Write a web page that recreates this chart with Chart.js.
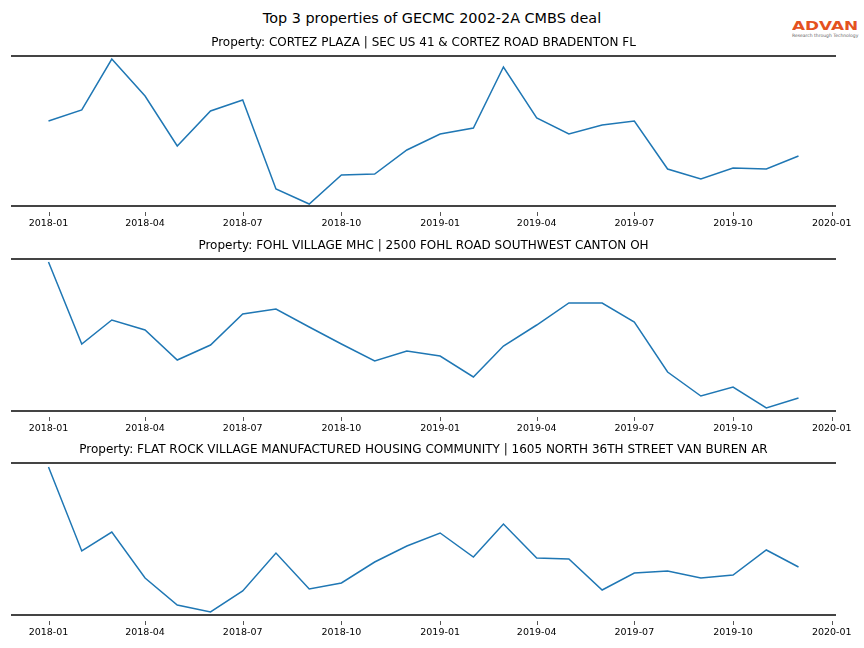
<!DOCTYPE html>
<html>
<head>
<meta charset="utf-8">
<script src="https://cdn.jsdelivr.net/npm/chart.js@4"></script>
<style>
  body { margin: 0; background: #fff; }
  #fig { position: relative; width: 864px; height: 648px; font-family: "DejaVu Sans", sans-serif; }
  #fig canvas { position: absolute; left: 0; }
  #mainTitle { position: absolute; top: 10px; left: 0; width: 864px; text-align: center; font-size: 14.4px; color: #000; }
  #logo { position: absolute; left: 792px; top: 19px; width: 68px; }
  #logo .name { font-family: "DejaVu Sans", sans-serif; font-weight: bold; font-size: 13px; color: #e4521f; line-height: 14px;
                transform: scaleX(1.3); transform-origin: left top; white-space: nowrap; }
  #logo .tag { font-size: 4.5px; color: #666; line-height: 6px; white-space: nowrap; margin-top: 0px; }
</style>
</head>
<body>
<div id="fig">
  <div id="mainTitle">Top 3 properties of GECMC 2002-2A CMBS deal</div>
  <div id="logo"><div class="name">ADVAN</div><div class="tag">Research through Technology</div></div>
  <canvas id="chart1" width="864" height="206" style="top:30px"></canvas>
  <canvas id="chart2" width="864" height="208" style="top:233px"></canvas>
  <canvas id="chart3" width="864" height="208" style="top:437px"></canvas>
</div>
<script>
const months = ['2018-01', '2018-02', '2018-03', '2018-04', '2018-05', '2018-06',
    '2018-07', '2018-08', '2018-09', '2018-10', '2018-11', '2018-12',
    '2019-01', '2019-02', '2019-03', '2019-04', '2019-05', '2019-06',
    '2019-07', '2019-08', '2019-09', '2019-10', '2019-11', '2019-12'];
const tickLabels = ['2018-01', '2018-04', '2018-07', '2018-10', '2019-01',
    '2019-04', '2019-07', '2019-10', '2020-01'];

const panelTitles = [
    'Property: CORTEZ PLAZA | SEC US 41 & CORTEZ ROAD BRADENTON FL',
    'Property: FOHL VILLAGE MHC | 2500 FOHL ROAD SOUTHWEST CANTON OH',
    'Property: FLAT ROCK VILLAGE MANUFACTURED HOUSING COMMUNITY | 1605 NORTH 36TH STREET VAN BUREN AR'
];

// relative visit levels (no y scale shown)
const cortezValues = [85, 96, 147, 110, 60, 95, 106, 17, 2, 31, 32, 56,
    72, 78, 139, 88, 72, 81, 85, 37, 27, 38, 37, 50];
const fohlValues = [149, 67, 91, 81, 51, 66, 97, 102, 84, 67, 50, 60,
    55, 34, 65, 86, 108, 108, 89, 39, 15, 24, 3, 13];
const flatRockValues = [148, 64, 83, 37, 10, 3, 24, 62, 26, 32, 53, 69,
    82, 58, 91, 57, 56, 25, 42, 44, 37, 40, 65, 48];
const yMax = [150, 152, 152];

const DAY = 86400000;
const origin = Date.UTC(2018, 0, 1);
function dayOffset(label) {
    const [y, m] = label.split('-').map(Number);
    return (Date.UTC(y, m - 1, 1) - origin) / DAY;
}

const spanDays = dayOffset(months[months.length - 1]) - dayOffset(months[0]);
const xMin = -spanDays * 0.05;
const xMax = spanDays * 1.05;

// spines top/bottom, small tick marks, subplot title
const framePlugin = {
    id: 'frame',
    afterDraw(chart, args, opts) {
        const { ctx, chartArea } = chart;
        const xs = chart.scales.x;
        ctx.save();
        ctx.strokeStyle = '#444';
        ctx.lineWidth = 2;
        ctx.beginPath();
        ctx.moveTo(chartArea.left, chartArea.top);
        ctx.lineTo(chartArea.right, chartArea.top);
        ctx.moveTo(chartArea.left, chartArea.bottom);
        ctx.lineTo(chartArea.right, chartArea.bottom);
        ctx.stroke();

        ctx.strokeStyle = '#555';
        ctx.lineWidth = 1;
        ctx.beginPath();
        xs.ticks.forEach(t => {
            const px = Math.round(xs.getPixelForValue(t.value)) + 0.5;
            ctx.moveTo(px, chartArea.bottom + 6);
            ctx.lineTo(px, chartArea.bottom + 10);
        });
        ctx.stroke();

        ctx.fillStyle = '#000';
        ctx.font = '12px "DejaVu Sans"';
        ctx.textAlign = 'center';
        ctx.textBaseline = 'middle';
        ctx.fillText(opts.text, (chartArea.left + chartArea.right) / 2, chartArea.top - 13);
        ctx.restore();
    }
};

function makePanel(id, title, values, top) {
    return new Chart(document.getElementById(id), {
        type: 'line',
        data: {
            datasets: [{
                data: months.map((m, i) => ({ x: dayOffset(m), y: values[i] })),
                borderColor: '#1f77b4',
                borderWidth: 1.5,
                pointRadius: 0,
                tension: 0
            }]
        },
        options: {
            responsive: false,
            animation: false,
            layout: { padding: { top: 26, left: 11, right: 28, bottom: 0 } },
            plugins: {
                legend: { display: false },
                tooltip: { enabled: false },
                frame: { text: title }
            },
            scales: {
                x: {
                    type: 'linear',
                    min: xMin,
                    max: xMax,
                    afterBuildTicks: scale => {
                        scale.ticks = tickLabels.map(t => ({ value: dayOffset(t) }));
                    },
                    afterFit: scale => { scale.height = 30; },
                    grid: { drawOnChartArea: false, drawTicks: false },
                    border: { display: false },
                    ticks: {
                        autoSkip: false,
                        maxRotation: 0,
                        padding: 12,
                        color: '#000',
                        font: { family: 'DejaVu Sans', size: 9.5 },
                        callback: value => tickLabels.find(t => dayOffset(t) === value) || ''
                    }
                },
                y: {
                    display: false,
                    min: 0,
                    max: top
                }
            }
        },
        plugins: [framePlugin]
    });
}

makePanel('chart1', panelTitles[0], cortezValues, yMax[0]);
makePanel('chart2', panelTitles[1], fohlValues, yMax[1]);
makePanel('chart3', panelTitles[2], flatRockValues, yMax[2]);
</script>
</body>
</html>
